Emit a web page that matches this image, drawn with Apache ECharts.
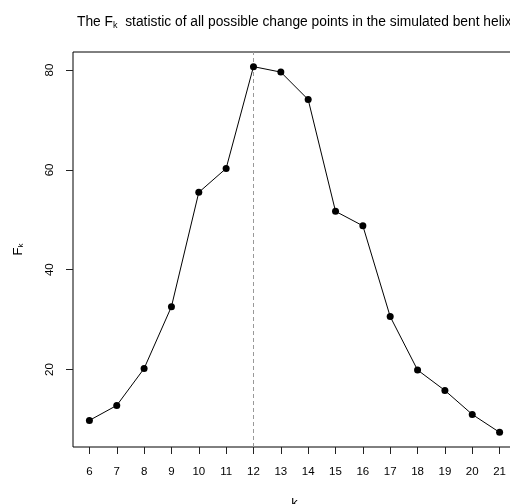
<!DOCTYPE html>
<html>
<head>
<meta charset="utf-8">
<script src="https://cdn.jsdelivr.net/npm/echarts@6/dist/echarts.min.js"></script>
<style>
  html, body { margin: 0; padding: 0; background: #fff; }
  #chart { width: 510px; height: 504px; }
</style>
</head>
<body>
<div id="chart"></div>
<script>
// Change point index k and the F_k statistic at each one
const kValues = [6, 7, 8, 9, 10, 11, 12, 13, 14, 15, 16, 17, 18, 19, 20, 21];
const fkValues = [9.8, 12.8, 20.2, 32.6, 55.5, 60.3, 80.7, 79.6, 74.1, 51.7, 48.8, 30.6, 19.9, 15.8, 11.0, 7.4];
const xTicks = [6, 7, 8, 9, 10, 11, 12, 13, 14, 15, 16, 17, 18, 19, 20, 21];
const yTicks = [20, 40, 60, 80];
const bestK = 12;

const FONT = '"Liberation Sans", Arial, Helvetica, sans-serif';
const points = kValues.map((k, i) => [k, fkValues[i]]);

// R-style 4% padding around the data range
const xPad = (Math.max(...kValues) - Math.min(...kValues)) * 0.04;
const yPad = (Math.max(...fkValues) - Math.min(...fkValues)) * 0.04;

const chart = echarts.init(document.getElementById('chart'), null, { renderer: 'canvas' });
chart.setOption({
  animation: false,
  backgroundColor: '#ffffff',
  textStyle: { fontFamily: FONT },
  title: {
    text: 'The F{sub|k}  statistic of all possible change points in the simulated bent helix',
    left: 72,
    top: 9,
    textStyle: {
      fontFamily: FONT,
      fontSize: 13.8,
      fontWeight: 'normal',
      color: '#000',
      rich: {
        sub: { fontFamily: FONT, fontSize: 9, color: '#000', padding: [7, 0, 0, 0] }
      }
    }
  },
  grid: {
    left: 73, top: 52, width: 443, bottom: 57,
    outerBoundsMode: 'none',
    containLabel: false,
    show: true, borderColor: '#000', borderWidth: 1, backgroundColor: 'transparent'
  },
  xAxis: {
    type: 'value',
    min: Math.min(...kValues) - xPad,
    max: Math.max(...kValues) + xPad,
    name: 'k',
    nameLocation: 'middle',
    nameGap: 50,
    nameTextStyle: { fontFamily: FONT, fontSize: 13, color: '#000' },
    splitLine: { show: false },
    axisLine: { show: false },
    axisTick: {
      show: true, customValues: xTicks, length: 7, inside: false,
      lineStyle: { color: '#222', width: 1 }
    },
    axisLabel: {
      show: true, customValues: xTicks, margin: 19,
      fontFamily: FONT, fontSize: 11.5, color: '#000',
      formatter: v => String(Math.round(v))
    }
  },
  yAxis: {
    type: 'value',
    min: Math.min(...fkValues) - yPad,
    max: Math.max(...fkValues) + yPad,
    name: 'F{sub|k}',
    nameLocation: 'middle',
    nameRotate: 90,
    nameGap: 48,
    nameTextStyle: {
      fontFamily: FONT, fontSize: 13, color: '#000',
      rich: { sub: { fontFamily: FONT, fontSize: 8, color: '#000', padding: [6, 0, 0, 0] } }
    },
    splitLine: { show: false },
    axisLine: { show: false },
    axisTick: {
      show: true, customValues: yTicks, length: 7, inside: false,
      lineStyle: { color: '#222', width: 1 }
    },
    axisLabel: {
      show: true, customValues: yTicks, rotate: 90, margin: 17,
      fontFamily: FONT, fontSize: 11.5, color: '#000',
      formatter: v => String(Math.round(v))
    }
  },
  series: [
    {
      // dashed marker at the best change point, drawn beneath the curve
      type: 'line',
      data: [],
      zlevel: 0,
      z: 1,
      markLine: {
        silent: true,
        symbol: ['none', 'none'],
        label: { show: false },
        lineStyle: { color: '#999', type: [4, 3], width: 1 },
        data: [{ xAxis: bestK }]
      }
    },
    {
      type: 'line',
      data: points,
      zlevel: 1,
      symbol: 'circle',
      symbolSize: 7,
      showAllSymbol: true,
      clip: false,
      lineStyle: { color: '#000', width: 1 },
      itemStyle: { color: '#000', borderWidth: 0 },
      z: 3
    }
  ]
});
</script>
</body>
</html>
